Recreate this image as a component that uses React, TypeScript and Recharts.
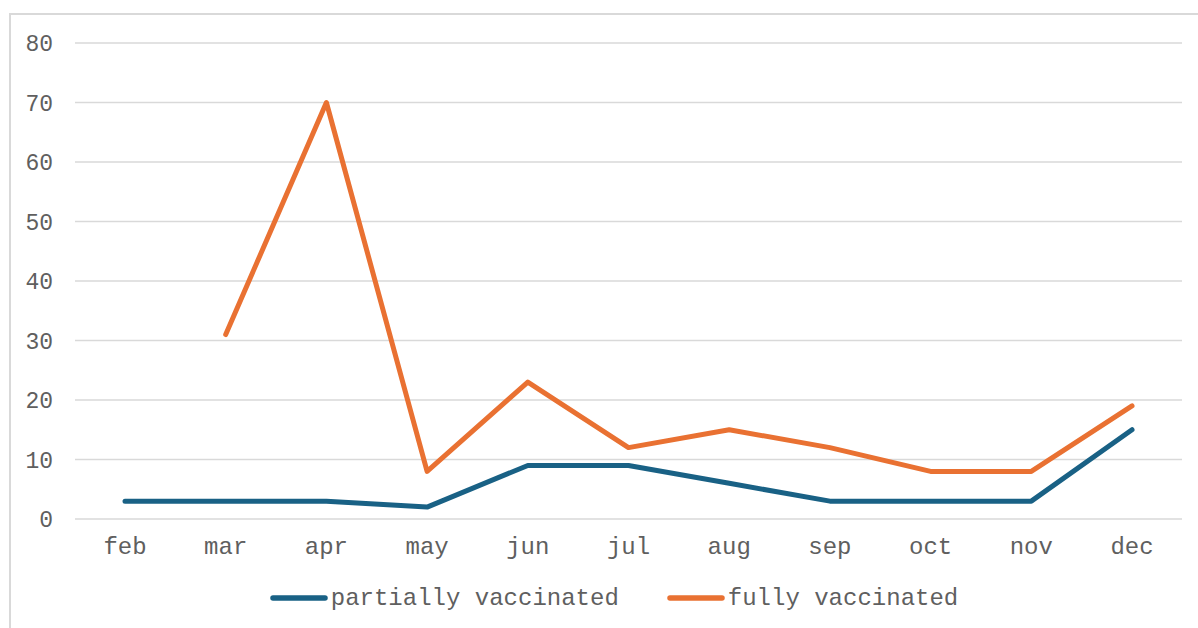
import React from 'react';
import { LineChart, Line, XAxis, YAxis, CartesianGrid, Legend } from 'recharts';

// months on the x axis
const months = ['feb', 'mar', 'apr', 'may', 'jun', 'jul', 'aug', 'sep', 'oct', 'nov', 'dec'];
// partially vaccinated per month
const partial = [3, 3, 3, 2, 9, 9, 6, 3, 3, 3, 15];
// fully vaccinated per month (no value for feb)
const full = [null, 31, 70, 8, 23, 12, 15, 12, 8, 8, 19];
const yTicks = [0, 10, 20, 30, 40, 50, 60, 70, 80];

const data = months.map((m, i) => ({ month: m, partial: partial[i], full: full[i] }));

const FONT = '"Liberation Mono", "Courier New", monospace';
const TEXT = '#5f5f5f';
const BLUE = '#196185';
const ORANGE = '#E97132';

const legendItems = [
  { label: 'partially vaccinated', color: BLUE },
  { label: 'fully vaccinated', color: ORANGE },
];

const renderLegend = () => (
  <div
    style={{
      display: 'flex',
      justifyContent: 'center',
      alignItems: 'center',
      paddingLeft: 35,
      height: 30,
      fontFamily: FONT,
      fontSize: 24,
      color: TEXT,
    }}
  >
    {legendItems.map((it, i) => (
      <div key={it.label} style={{ display: 'flex', alignItems: 'center', marginLeft: i ? 48 : 0 }}>
        <svg width={58} height={10} style={{ display: 'block' }}>
          <line x1={3} y1={5} x2={55} y2={5} stroke={it.color} strokeWidth={5.5} strokeLinecap="round" />
        </svg>
        <span style={{ marginLeft: 3 }}>{it.label}</span>
      </div>
    ))}
  </div>
);

export default function App() {
  return (
    <div style={{ position: 'relative', width: 1198, height: 628, overflow: 'hidden' }}>
      <style>{`body{margin:0;overflow:hidden;}`}</style>
      <div
        style={{
          position: 'absolute',
          left: 9,
          top: 13,
          width: 1200,
          height: 640,
          border: '2px solid #d9d9d9',
          boxSizing: 'border-box',
          background: '#fff',
        }}
      />
      <div style={{ position: 'absolute', left: 11, top: 15 }}>
        <LineChart
          width={1187}
          height={613}
          data={data}
          margin={{ top: 28, right: 16, bottom: 15, left: 0 }}
        >
          <CartesianGrid vertical={false} stroke="#d9d9d9" strokeWidth={1.5} />
          <XAxis
            dataKey="month"
            axisLine={false}
            tickLine={false}
            tickSize={0}
            tickMargin={18}
            height={64}
            interval={0}
            padding={{ left: 50, right: 50 }}
            tick={{ fill: TEXT, fontFamily: FONT, fontSize: 24 }}
          />
          <YAxis
            domain={[0, 80]}
            ticks={yTicks}
            axisLine={false}
            tickLine={false}
            tickSize={0}
            tickMargin={22}
            width={64}
            tick={{ fill: TEXT, fontFamily: FONT, fontSize: 23 }}
          />
          <Legend verticalAlign="bottom" height={30} content={renderLegend} />
          <Line
            dataKey="partial"
            stroke={BLUE}
            strokeWidth={5}
            strokeLinecap="round"
            strokeLinejoin="round"
            dot={false}
            isAnimationActive={false}
          />
          <Line
            dataKey="full"
            stroke={ORANGE}
            strokeWidth={5}
            strokeLinecap="round"
            strokeLinejoin="round"
            dot={false}
            isAnimationActive={false}
          />
        </LineChart>
      </div>
    </div>
  );
}
